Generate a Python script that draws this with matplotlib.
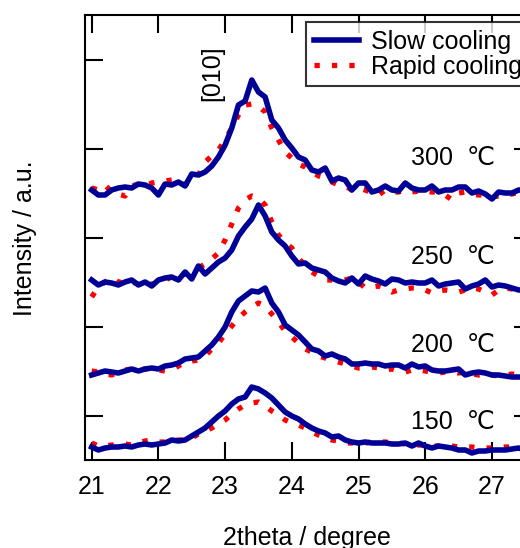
import numpy as np
import matplotlib
matplotlib.use("Agg")
import matplotlib.pyplot as plt

plt.rcParams["font.family"] = ["Liberation Sans", "DejaVu Sans"]

# 2theta grid (deg), 0.1 step
two_theta = np.round(np.arange(21.0, 27.55, 0.1), 2)

# stacked intensities (a.u., offsets already included)
slow_300 = [270, 265, 265, 270, 272, 273, 272, 276, 275, 272,
            265, 276, 275, 278, 274, 286, 285, 288, 294, 303,
            315, 332, 355, 359, 380, 368, 363, 340, 332, 320,
            312, 303, 300, 290, 288, 292, 279, 282, 280, 270,
            277, 277, 268, 270, 274, 270, 269, 277, 272, 270,
            270, 274, 268, 270, 270, 273, 273, 267, 269, 266,
            261, 268, 267, 267, 270, 270]
rapid_300 = [272, 270, 275, 268, 266, 264, 274, 276, 274, 277,
             278, 279, 280, 277, 276, 278, 285, 298, 304, 310,
             320, 332, 345, 355, 356, 354, 348, 332, 320, 308,
             302, 296, 293, 288, 284, 282, 278, 275, 274, 270,
             272, 270, 267, 265, 270, 268, 268, 270, 268, 269,
             269, 268, 268, 265, 260, 267, 268, 266, 265, 265,
             263, 264, 266, 266, 268, 268]
slow_250 = [180, 175, 178, 177, 175, 178, 180, 175, 178, 174,
            180, 182, 183, 180, 188, 181, 194, 186, 192, 198,
            202, 210, 224, 233, 241, 255, 244, 228, 220, 214,
            204, 196, 197, 192, 190, 188, 182, 179, 177, 182,
            176, 184, 181, 179, 176, 181, 180, 177, 178, 177,
            177, 180, 174, 176, 177, 178, 171, 174, 176, 180,
            173, 175, 174, 172, 170, 170]
rapid_250 = [163, 173, 178, 183, 178, 177, 178, 176, 175, 176,
             177, 180, 183, 183, 186, 188, 192, 196, 201, 207,
             220, 236, 252, 260, 264, 262, 255, 238, 225, 217,
             212, 202, 194, 188, 184, 180, 180, 179, 180, 182,
             178, 172, 173, 174, 171, 168, 170, 171, 172, 172,
             170, 167, 169, 170, 169, 168, 170, 172, 171, 168,
             165, 170, 172, 171, 170, 170]
slow_200 = [85, 87, 89, 88, 87, 89, 91, 89, 91, 92,
            91, 94, 95, 97, 101, 102, 103, 109, 115, 123,
            133, 148, 159, 164, 169, 168, 172, 157, 148, 135,
            130, 125, 118, 111, 109, 104, 106, 103, 101, 96,
            96, 97, 96, 96, 94, 95, 95, 92, 96, 93,
            94, 90, 89, 89, 90, 91, 85, 87, 88, 87,
            85, 85, 84, 83, 83, 83]
rapid_200 = [89, 88, 86, 85, 88, 90, 91, 90, 91, 91,
             90, 89, 90, 94, 98, 99, 100, 104, 111, 117,
             126, 134, 142, 148, 153, 157, 154, 146, 138, 129,
             123, 117, 111, 108, 104, 102, 100, 98, 96, 94,
             92, 92, 93, 92, 90, 91, 89, 88, 90, 90,
             89, 88, 87, 88, 88, 87, 88, 86, 85, 86,
             85, 84, 85, 86, 85, 85]
slow_150 = [13, 10, 12, 13, 13, 14, 13, 15, 16, 15,
            16, 17, 20, 19, 20, 24, 28, 32, 38, 44,
            49, 56, 61, 63, 73, 71, 67, 62, 55, 48,
            44, 41, 36, 32, 29, 27, 23, 24, 20, 18,
            17, 18, 17, 17, 17, 16, 16, 17, 14, 17,
            14, 12, 14, 13, 12, 10, 10, 7, 9, 9,
            10, 10, 10, 11, 12, 10]
rapid_150 = [17, 14, 14, 15, 15, 16, 15, 17, 19, 20,
             18, 18, 19, 20, 20, 22, 26, 29, 32, 36,
             40, 46, 51, 55, 57, 58, 54, 49, 45, 40,
             37, 35, 32, 28, 25, 23, 20, 19, 17, 17,
             17, 17, 18, 18, 18, 17, 17, 16, 15, 15,
             15, 14, 14, 15, 14, 13, 13, 13, 12, 12,
             12, 12, 13, 13, 13, 13]

slow = [slow_150, slow_200, slow_250, slow_300]
rapid = [rapid_150, rapid_200, rapid_250, rapid_300]
temp_labels = ["150  ℃", "200  ℃", "250  ℃", "300  ℃"]
label_y = [38, 115, 203, 302]

BLUE = "#000096"
RED = "#ff0000"
FS = 18

fig = plt.figure(figsize=(5.2, 5.48), dpi=100)
ax = fig.add_axes([85 / 520, 88 / 548, 447 / 520, 445 / 548])

for s, r in zip(slow, rapid):
    ax.plot(two_theta, r, color=RED, lw=3.8, linestyle=(0, (1, 2.3)),
            dash_capstyle="butt", zorder=2)
    ax.plot(two_theta, s, color=BLUE, lw=4.0, solid_joinstyle="round", zorder=3)

for txt, y in zip(temp_labels, label_y):
    ax.text(25.78, y, txt, fontsize=FS, ha="left", va="center")

ax.text(22.8, 387, "[010]", rotation=90, fontsize=FS, ha="center", va="center")

ax.set_xlim(20.9, 27.6)
ax.set_ylim(0, 445)
ax.set_xticks(range(21, 28))
ax.set_yticks([44.5 + 89 * k for k in range(5)])
ax.set_yticklabels([])
ax.tick_params(direction="in", length=13, width=1.5, top=True, right=True,
               labelsize=FS, pad=11)
for sp in ax.spines.values():
    sp.set_linewidth(1.5)

fig.text(25 / 520, 1 - 238 / 548, "Intensity / a.u.", rotation=90,
         fontsize=FS, ha="center", va="center")
fig.text(307 / 520, 1 - 538 / 548, "2theta / degree", fontsize=FS,
         ha="center", va="center")

h_slow, = ax.plot([], [], color=BLUE, lw=4.0)
h_rapid, = ax.plot([], [], color=RED, lw=3.8, linestyle=(0, (1, 2.3)),
                   dash_capstyle="butt")
leg = fig.legend([h_slow, h_rapid], ["Slow cooling", "Rapid cooling"],
                 loc="upper left", bbox_to_anchor=(306 / 520, 1 - 22 / 548),
                 fontsize=FS, frameon=True, fancybox=False, borderaxespad=0,
                 handlelength=1.8, handletextpad=0.5, labelspacing=0.05,
                 borderpad=0.3)
leg.get_frame().set_edgecolor("black")
leg.get_frame().set_linewidth(1.5)

fig.savefig("out.png", dpi=100)
